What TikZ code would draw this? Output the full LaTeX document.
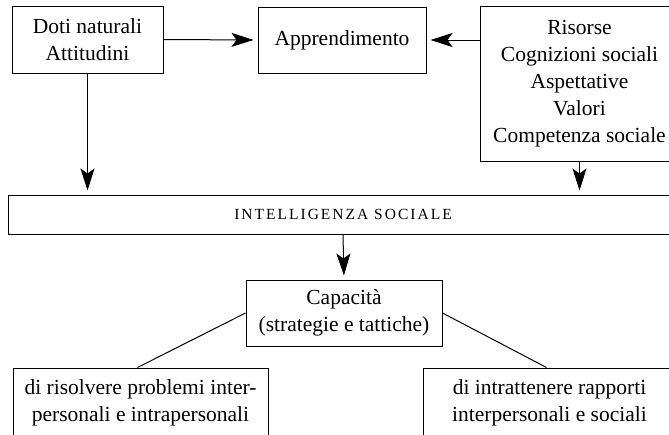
\documentclass[tikz,border=0pt]{standalone}
\usepackage{fontspec}
\setmainfont{Liberation Serif}
\usetikzlibrary{arrows.meta,calc}
\begin{document}
\begin{tikzpicture}[x=1pt,y=-1pt,
  box/.style={draw,line width=1pt,inner sep=0pt,align=center,
    font=\fontsize{21.5}{27}\selectfont},
  arr/.style={line width=1pt,-{Stealth[length=22pt,width=14pt,inset=5pt]},shorten >=4pt},
  link/.style={line width=1pt}]
\clip (0,0) rectangle (669,434);
\node[box,minimum width=151pt,minimum height=67pt] (doti) at (87.5,39.5) {Doti naturali\\Attitudini};
\node[box,minimum width=168pt,minimum height=66pt] (appr) at (342,40) {Apprendimento};
\node[box,minimum width=199pt,minimum height=155pt] (ris) at (579.5,83.5) {Risorse\\Cognizioni sociali\\Aspettative\\Valori\\Competenza sociale};
\node[box,minimum width=670pt,minimum height=39pt,font=\fontsize{15.5}{18}\selectfont\addfontfeature{LetterSpace=13}] (is) at (343,214.5) {INTELLIGENZA SOCIALE};
\node[box,minimum width=196pt,minimum height=66pt] (cap) at (344,313) {Capacità\\(strategie e tattiche)};
\node[box,minimum width=255pt,minimum height=70pt] (bl) at (140.5,403) {di risolvere problemi inter-\\personali e intrapersonali};
\node[box,minimum width=253pt,minimum height=70pt] (br) at (549.5,403) {di intrattenere rapporti\\interpersonali e sociali};
\draw[arr] (doti.east) -- (appr.west);
\draw[arr] (appr.east -| ris.west) -- (appr.east);
\draw[arr] (doti.south) -- (doti.south |- is.north);
\draw[arr] (ris.south) -- (ris.south |- is.north);
\draw[arr] (is.south) -- (cap.north);
\draw[link] (cap.west) -- ($(bl.north)+(-3,0)$);
\draw[link] (cap.east) -- ($(br.north)+(-3,0)$);
\end{tikzpicture}
\end{document}
